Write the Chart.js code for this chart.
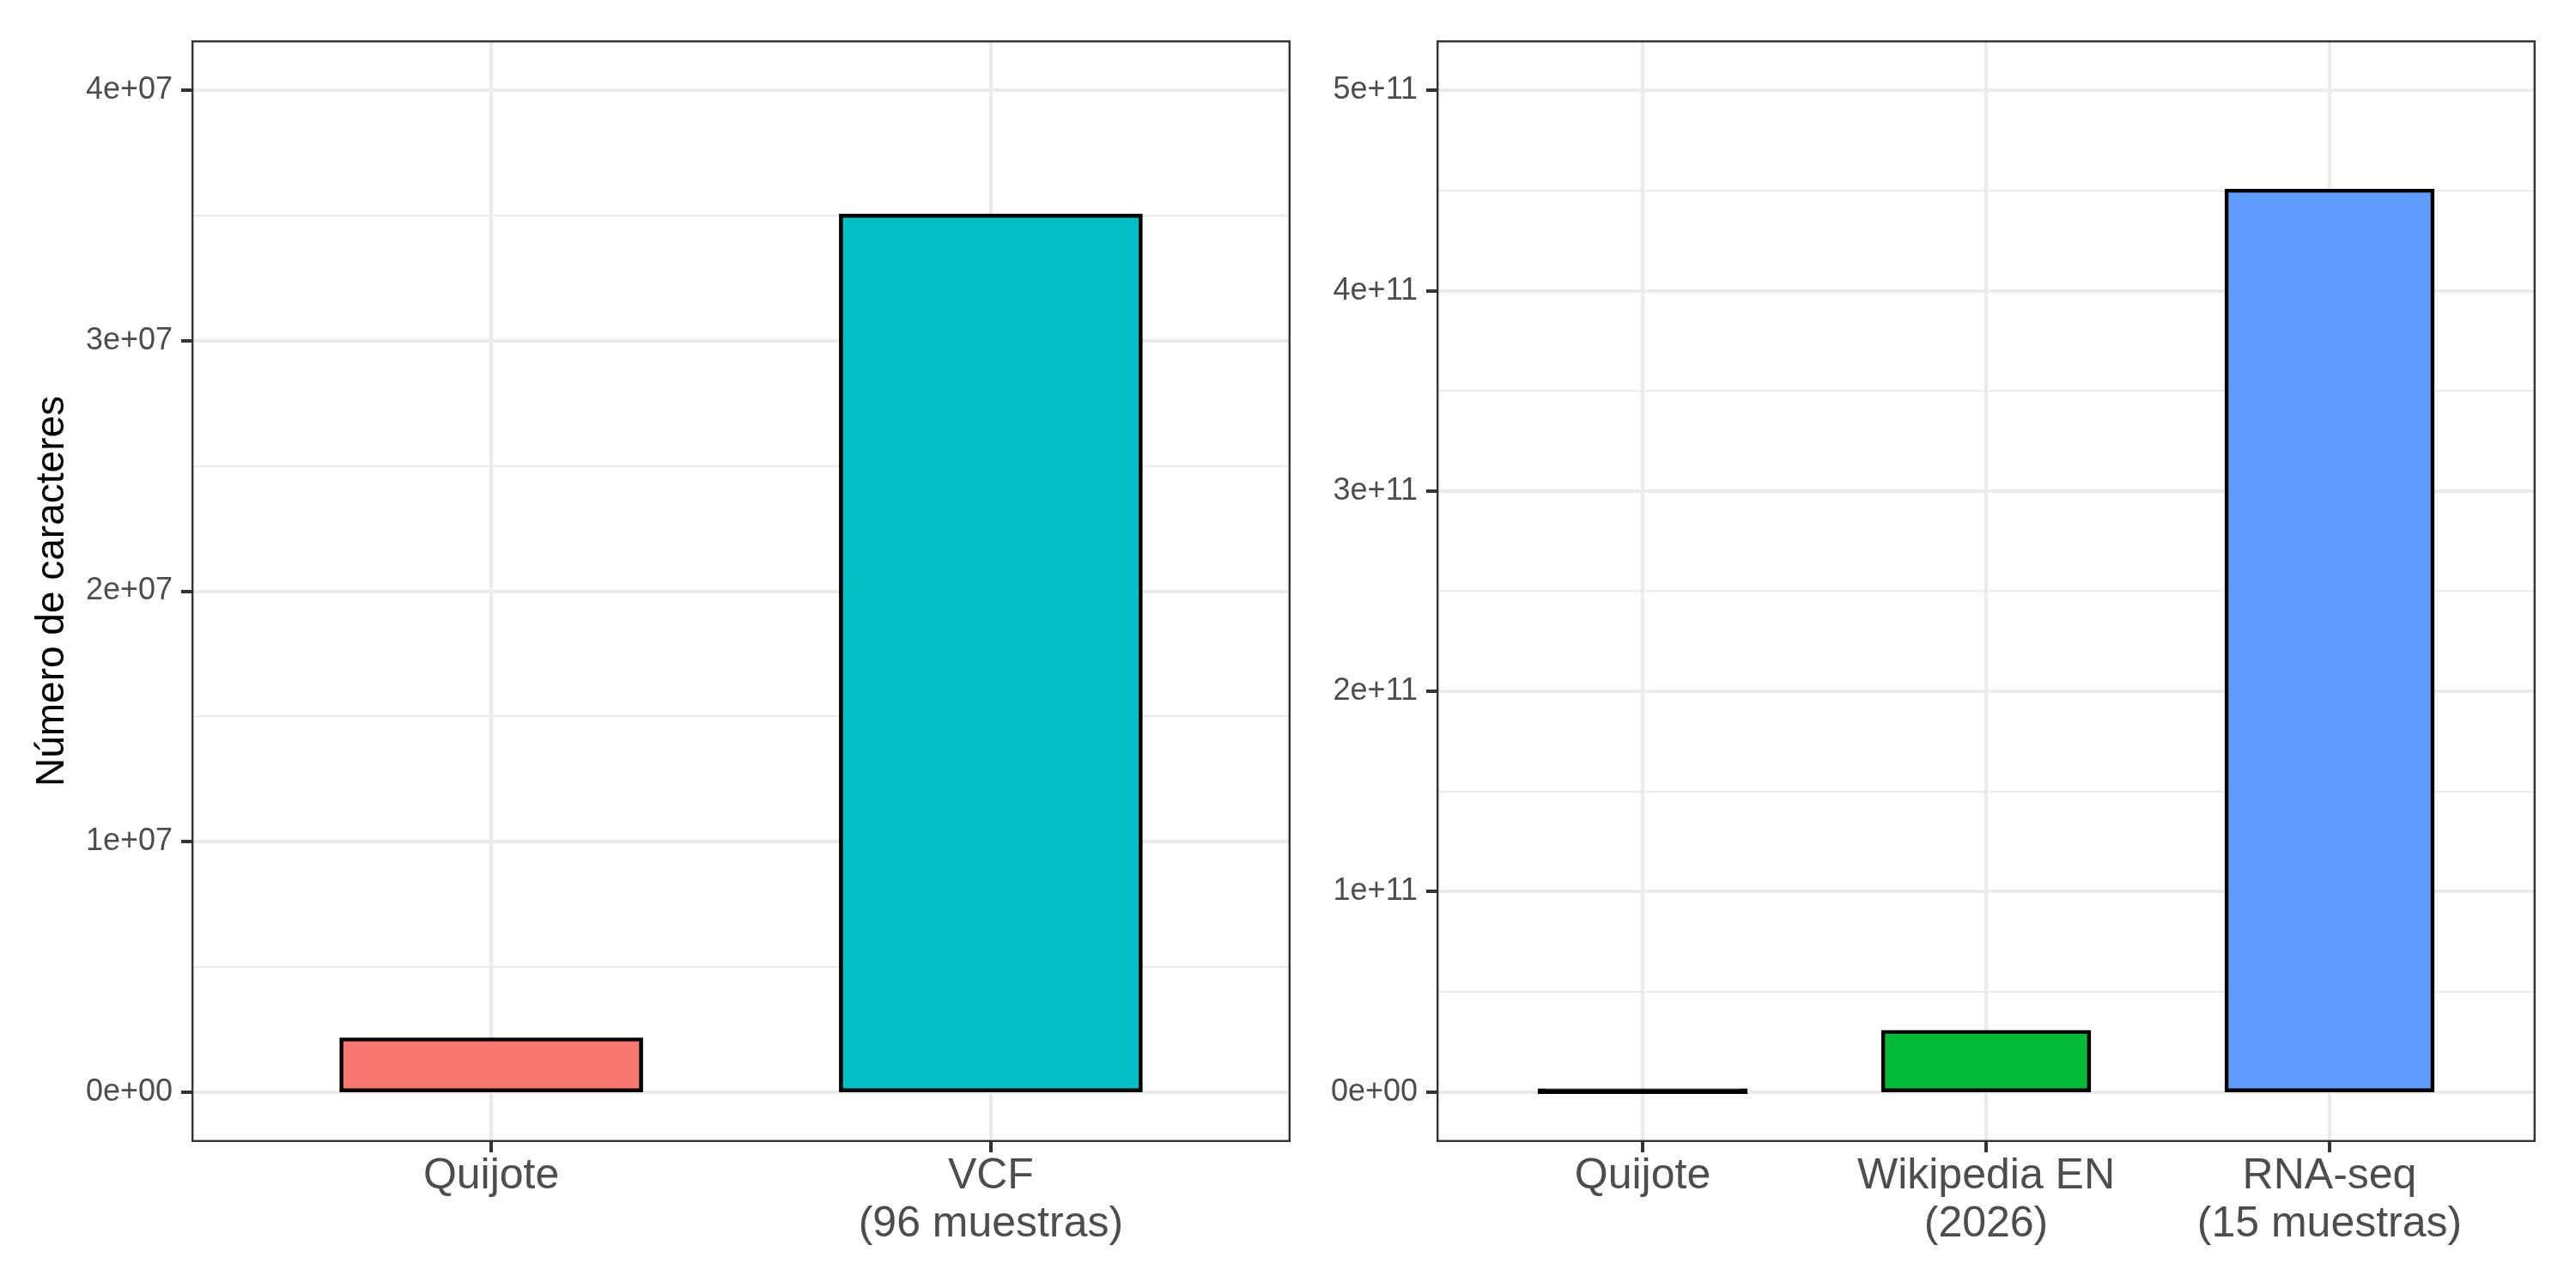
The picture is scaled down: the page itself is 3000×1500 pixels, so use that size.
<!DOCTYPE html>
<html>
<head>
<meta charset="utf-8">
<script src="https://cdn.jsdelivr.net/npm/chart.js@4.4.1/dist/chart.umd.min.js"></script>
<style>
  html, body { margin: 0; padding: 0; background: #fff; }
  #wrap { position: relative; width: 3000px; height: 1500px; }
  canvas { position: absolute; top: 0; }
</style>
</head>
<body>
<div id="wrap">
  <canvas id="izq" width="1510" height="1500" style="left:0"></canvas>
  <canvas id="der" width="1490" height="1500" style="left:1510px"></canvas>
</div>
<script>
// datos
const yTitulo = "Número de caracteres";

const catIzq = [["Quijote"], ["VCF", "(96 muestras)"]];
const valIzq = [2.1e6, 3.5e7];
const colIzq = ["#F8766D", "#00BFC4"];
const ticksIzq = [0, 1e7, 2e7, 3e7, 4e7];

const catDer = [["Quijote"], ["Wikipedia EN", "(2026)"], ["RNA-seq", "(15 muestras)"]];
const valDer = [2.1e6, 3.0e10, 4.5e11];
const colDer = ["#F8766D", "#00BA38", "#619CFF"];
const ticksDer = [0, 1e11, 2e11, 3e11, 4e11, 5e11];

Chart.defaults.font.family = "'Liberation Sans', Arial, Helvetica, sans-serif";

// 4e+07 estilo R
function formatoCientifico(v) {
  const [m, e] = v.toExponential(0).split("e");
  return m + "e" + e[0] + e.slice(1).padStart(2, "0");
}

// borde del panel (theme_bw)
const bordePanel = {
  id: "bordePanel",
  afterDraw(chart) {
    const { ctx, chartArea: a } = chart;
    ctx.save();
    ctx.strokeStyle = "#333333";
    ctx.lineWidth = 2.4;
    ctx.strokeRect(a.left + 1.2, a.top + 1.2, a.width - 2.4, a.height - 2.4);
    ctx.restore();
  }
};

function crearPanel(id, categorias, valores, colores, ticksY, opciones) {
  const tope = ticksY[ticksY.length - 1];
  const paso = ticksY[1] - ticksY[0];
  // cortes menores a mitad de camino
  const todos = [];
  ticksY.forEach((t, i) => {
    todos.push(t);
    if (i < ticksY.length - 1) todos.push(t + paso / 2);
  });
  const esMayor = v => ticksY.includes(v);

  return new Chart(document.getElementById(id), {
    type: "bar",
    data: {
      datasets: [{
        data: valores.map((v, i) => ({ x: i + 1, y: v })),
        backgroundColor: (c) => {
          const s = c.chart.scales.y;
          if (s && c.parsed) {
            const h = Math.abs(s.getPixelForValue(c.parsed.y) - s.getPixelForValue(0));
            if (h < 4) return "#000000";
          }
          return colores[c.dataIndex];
        },
        borderColor: "#000000",
        borderWidth: 4.6,
        borderSkipped: false,
        inflateAmount: 2.3,
        categoryPercentage: 1,
        barPercentage: 0.6
      }]
    },
    options: {
      responsive: false,
      devicePixelRatio: 1,
      animation: false,
      layout: { padding: { top: 47, right: opciones.derecha, left: 0, bottom: 0 } },
      plugins: { legend: { display: false }, tooltip: { enabled: false } },
      scales: {
        x: {
          type: "linear",
          min: 0.4,
          max: categorias.length + 0.6,
          offset: false,
          afterBuildTicks: (s) => { s.ticks = categorias.map((_, i) => ({ value: i + 1 })); },
          afterFit: (s) => { s.height = 170; },
          border: { display: false },
          grid: {
            offset: false,
            color: "#EBEBEB",
            lineWidth: 4,
            drawTicks: true,
            tickLength: 12,
            tickWidth: 4,
            tickColor: "#333333"
          },
          ticks: {
            autoSkip: false,
            maxRotation: 0,
            padding: 0,
            color: "#4D4D4D",
            font: { size: 50, lineHeight: 1.12 },
            callback: (v) => categorias[v - 1] || ""
          }
        },
        y: {
          type: "linear",
          min: -0.05 * tope,
          max: 1.05 * tope,
          afterBuildTicks: (s) => { s.ticks = todos.map(v => ({ value: v })); },
          afterFit: (s) => { s.width = opciones.anchoY; },
          border: { display: false },
          grid: {
            color: "#EBEBEB",
            lineWidth: (c) => esMayor(c.tick.value) ? 4 : 2.2,
            drawTicks: true,
            tickLength: 12,
            tickWidth: 4,
            tickColor: (c) => esMayor(c.tick.value) ? "#333333" : "rgba(0,0,0,0)"
          },
          ticks: {
            autoSkip: false,
            padding: 10,
            color: "#4D4D4D",
            font: { size: 36 },
            callback: (v) => esMayor(v) ? formatoCientifico(v) : ""
          },
          title: {
            display: !!opciones.titulo,
            text: opciones.titulo || "",
            color: "#000000",
            font: { size: 46 },
            padding: { top: 34, bottom: 0 }
          }
        }
      }
    },
    plugins: [bordePanel]
  });
}

crearPanel("izq", catIzq, valIzq, colIzq, ticksIzq, { derecha: 7, anchoY: 223, titulo: yTitulo });
crearPanel("der", catDer, valDer, colDer, ticksDer, { derecha: 47, anchoY: 163 });
</script>
</body>
</html>
